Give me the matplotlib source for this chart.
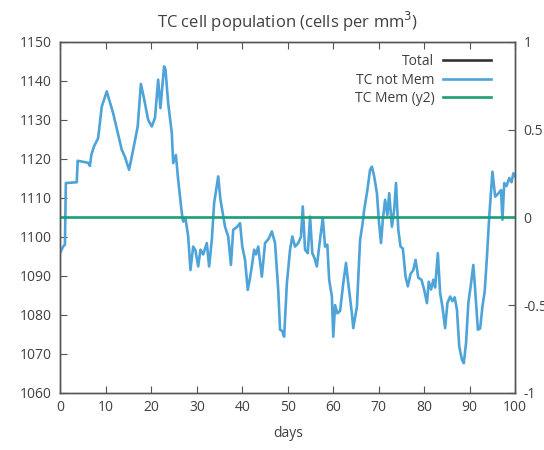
import matplotlib
matplotlib.use("Agg")
import matplotlib.pyplot as plt
from matplotlib.lines import Line2D

# 데이터
days = [0, 0.6, 1.0, 1.2, 3.6, 3.8, 6.1, 6.5, 6.8, 7.4, 8.3, 9.1, 10.2, 11.6, 13.5, 14.2,
        15.1, 16.0, 17.0, 17.7, 18.3, 19.3, 20.1, 20.8, 21.5, 22.0, 22.8, 23.1, 23.7, 24.5,
        24.8, 25.4, 25.9, 26.7, 27.0, 27.5, 28.1, 28.6, 29.2, 29.7, 30.3, 30.8, 31.4, 32.2,
        32.7, 33.3, 33.8, 34.7, 35.2, 36.2, 36.9, 37.5, 38.0, 38.8, 39.5, 40.0, 40.6, 41.2,
        41.7, 42.1, 42.6, 43.0, 43.5, 44.3, 45.0, 45.8, 46.5, 47.2, 47.9, 48.3, 48.8, 49.2,
        49.8, 50.5, 51.0, 51.6, 52.3, 52.9, 53.3, 53.8, 54.4, 54.9, 55.4, 55.9, 56.4, 57.0,
        57.7, 58.2, 58.7, 59.1, 59.7, 60.0, 60.4, 60.9, 61.5, 62.2, 62.8, 63.3, 64.1, 64.4,
        65.2, 65.9, 66.4, 66.8, 67.5, 68.1, 68.5, 69.0, 69.6, 70.0, 70.5, 70.9, 71.4, 71.9,
        72.3, 72.9, 73.4, 73.8, 74.3, 74.8, 75.3, 75.9, 76.4, 77.0, 77.6, 78.1, 78.7, 79.4,
        80.0, 80.6, 81.0, 81.5, 82.0, 82.4, 83.0, 83.5, 84.0, 84.6, 85.1, 85.7, 86.2, 86.7,
        87.2, 87.7, 88.3, 88.7, 89.2, 89.7, 90.3, 90.8, 91.2, 91.8, 92.3, 92.8, 93.3, 93.8,
        94.3, 95.0, 95.6, 96.2, 96.9, 97.2, 97.6, 98.1, 98.7, 99.2, 99.6, 100]

tc_not_mem = [1096, 1097.5, 1098, 1113.8, 1114, 1119.5, 1119, 1118.2, 1121, 1123.2, 1125.3,
              1133.4, 1137.3, 1131.7, 1122.3, 1120.5, 1117.2, 1122.3, 1128.3, 1139.2, 1136,
              1130, 1128.3, 1130.5, 1140.3, 1133, 1143.7, 1143, 1134.3, 1126.6, 1118.9, 1121,
              1114.6, 1106.1, 1103.9, 1104.8, 1100.1, 1091.5, 1097.5, 1096.5, 1092.4, 1096.7,
              1095.5, 1098.4, 1092.4, 1099.2, 1108.6, 1115.5, 1109.5, 1102.6, 1100.1, 1092.8,
              1101.8, 1102.5, 1103.5, 1097.5, 1094.1, 1086.4, 1089.5, 1092.4, 1096.7, 1095.5,
              1097.5, 1089.8, 1098.4, 1099.5, 1101.4, 1098.4, 1086.4, 1076.2, 1075.8, 1074.4,
              1088.1, 1096.7, 1100.1, 1097.5, 1098.4, 1100, 1107.8, 1096.7, 1095.8, 1105.2,
              1095.8, 1094.5, 1092.4, 1098.5, 1104.8, 1097.5, 1098, 1089, 1084.7, 1074.4,
              1082.5, 1080.4, 1081, 1088.1, 1093.3, 1088.1, 1080.4, 1076.6, 1082.1, 1099.2,
              1103, 1106.9, 1112, 1117.2, 1118, 1115.5, 1111.2, 1104.5, 1098.4, 1104.4, 1109.5,
              1105.5, 1111.2, 1102.6, 1107, 1113.8, 1101.8, 1097.5, 1097, 1089.8, 1087.3,
              1090.5, 1091.5, 1094.1, 1089.5, 1089, 1086.4, 1083, 1088.5, 1086.5, 1089, 1087,
              1095.8, 1085.6, 1082.1, 1076.6, 1083, 1084.7, 1083.5, 1084.5, 1081.3, 1071.9,
              1068.5, 1067.6, 1072.8, 1083, 1088.1, 1092.8, 1086.5, 1076.2, 1076.5, 1082.1,
              1086, 1095, 1105.2, 1116.7, 1110.3, 1111, 1112, 1104.4, 1113.8, 1113, 1115.1,
              1114, 1116.3, 1115.5]

mem_days = [0, 100]
tc_mem = [0, 0]

x_ticks = [0, 10, 20, 30, 40, 50, 60, 70, 80, 90, 100]
y_ticks = [1060, 1070, 1080, 1090, 1100, 1110, 1120, 1130, 1140, 1150]
y2_ticks = [-1, -0.5, 0, 0.5, 1]
y2_labels = ['-1', '-0.5', '0', '0.5', '1']

text_color = '#404040'
frame_color = '#555555'
plt.rcParams['font.family'] = ['Open Sans', 'DejaVu Sans']
plt.rcParams['font.size'] = 10

fig = plt.figure(figsize=(5.44, 4.5), dpi=100)
ax = fig.add_axes([0.111, 0.127, 0.836, 0.780])
ax2 = ax.twinx()

ax.plot(days, tc_not_mem, color='#4ea3d8', lw=1.9, zorder=3)
ax2.plot(mem_days, tc_mem, color='#1a9e77', lw=1.9, zorder=2)

ax.set_xlim(0, 100)
ax.set_ylim(1060, 1150)
ax2.set_ylim(-1, 1)
ax.set_xticks(x_ticks)
ax.set_yticks(y_ticks)
ax2.set_yticks(y2_ticks)
ax2.set_yticklabels(y2_labels)

ax.tick_params(axis='x', direction='in', top=True, length=5, pad=5, colors=frame_color, labelcolor=text_color)
ax.tick_params(axis='y', direction='in', length=5, pad=6, colors=frame_color, labelcolor=text_color)
ax2.tick_params(axis='y', direction='in', length=5, pad=6, colors=frame_color, labelcolor=text_color)
for a in (ax, ax2):
    for s in a.spines.values():
        s.set_color(frame_color)
        s.set_linewidth(1.0)

ax.set_xlabel('days', color=text_color, labelpad=8)
ax.set_title('TC cell population (cells per mm$^3$)', color=text_color, pad=10)

handles = [Line2D([], [], color='#333333', lw=1.9),
           Line2D([], [], color='#4ea3d8', lw=1.9),
           Line2D([], [], color='#1a9e77', lw=1.9)]
labels = ['Total', 'TC not Mem', 'TC Mem (y2)']
leg = ax2.legend(handles, labels, loc='upper right', frameon=False, markerfirst=False,
                 handlelength=3.5, handletextpad=0.6, labelspacing=0.25,
                 bbox_to_anchor=(0.975, 1.0))
for t in leg.get_texts():
    t.set_color(text_color)
    t.set_ha('right')

fig.savefig('out.png', dpi=100)
